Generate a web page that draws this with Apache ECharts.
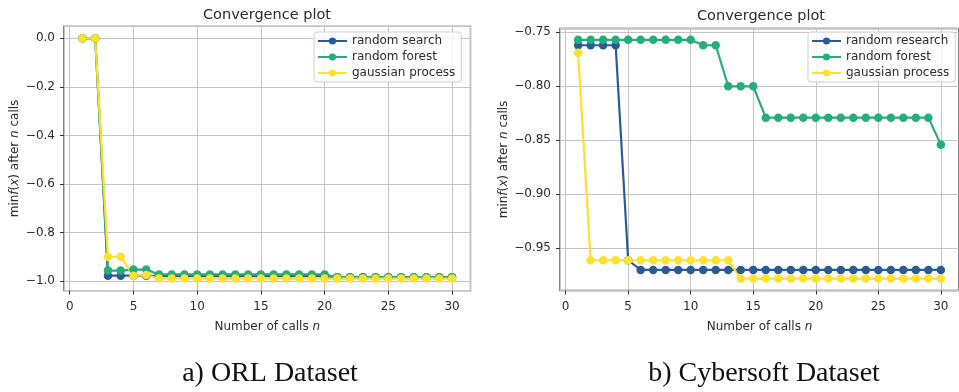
<!DOCTYPE html>
<html>
<head>
<meta charset="utf-8">
<script src="https://cdn.jsdelivr.net/npm/echarts@6/dist/echarts.min.js"></script>
<style>
html,body{margin:0;padding:0;background:#fff;}
#c{width:959px;height:392px;}
</style>
</head>
<body>
<div id="c"></div>
<script>
// ---- data ----
var calls = [1,2,3,4,5,6,7,8,9,10,11,12,13,14,15,16,17,18,19,20,21,22,23,24,25,26,27,28,29,30];

// a) ORL Dataset
var orlRandomSearch = [0,0,-0.978,-0.978,-0.978,-0.978,-0.98,-0.98,-0.98,-0.98,-0.98,-0.98,-0.98,-0.98,-0.98,-0.98,-0.98,-0.98,-0.98,-0.98,-0.985,-0.985,-0.985,-0.985,-0.985,-0.985,-0.985,-0.985,-0.985,-0.985];
var orlRandomForest = [0,0,-0.957,-0.957,-0.953,-0.953,-0.973,-0.973,-0.973,-0.973,-0.973,-0.973,-0.973,-0.973,-0.973,-0.973,-0.973,-0.973,-0.973,-0.973,-0.985,-0.985,-0.985,-0.985,-0.985,-0.985,-0.985,-0.985,-0.985,-0.985];
var orlGaussian = [0,0,-0.90,-0.90,-0.978,-0.975,-0.99,-0.99,-0.99,-0.99,-0.99,-0.99,-0.99,-0.99,-0.99,-0.99,-0.99,-0.99,-0.99,-0.99,-0.99,-0.99,-0.99,-0.99,-0.99,-0.99,-0.99,-0.99,-0.99,-0.99];

// b) Cybersoft Dataset
var cyberRandomResearch = [-0.762,-0.762,-0.762,-0.762,-0.961,-0.970,-0.970,-0.970,-0.970,-0.970,-0.970,-0.970,-0.970,-0.970,-0.970,-0.970,-0.970,-0.970,-0.970,-0.970,-0.970,-0.970,-0.970,-0.970,-0.970,-0.970,-0.970,-0.970,-0.970,-0.970];
var cyberRandomForest = [-0.757,-0.757,-0.757,-0.757,-0.757,-0.757,-0.757,-0.757,-0.757,-0.757,-0.762,-0.762,-0.80,-0.80,-0.80,-0.829,-0.829,-0.829,-0.829,-0.829,-0.829,-0.829,-0.829,-0.829,-0.829,-0.829,-0.829,-0.829,-0.829,-0.854];
var cyberGaussian = [-0.769,-0.961,-0.961,-0.961,-0.961,-0.961,-0.961,-0.961,-0.961,-0.961,-0.961,-0.961,-0.961,-0.978,-0.978,-0.978,-0.978,-0.978,-0.978,-0.978,-0.978,-0.978,-0.978,-0.978,-0.978,-0.978,-0.978,-0.978,-0.978,-0.978];

var leftNames = ['random search','random forest','gaussian process'];
var rightNames = ['random research','random forest','gaussian process'];
var xTicks = [0,5,10,15,20,25,30];
var titleText = 'Convergence plot';
var captionLeft = 'a) ORL Dataset';
var captionRight = 'b) Cybersoft Dataset';

// ---- chart ----
var COLORS = ['#2b5b96','#26ad7c','#fde12d'];
var FONT = 'DejaVu Sans';
var TXT = '#2b2b2b';

function pairs(ys){ return calls.map(function(x,i){ return [x, ys[i]]; }); }
function minus(s){ return String(s).replace('-', '\u2212'); }

function mkSeries(name, ys, idx, color){
  return {
    type:'line', name:name, data:pairs(ys), xAxisIndex:idx, yAxisIndex:idx,
    symbol:'circle', symbolSize:8.5, showSymbol:true,
    lineStyle:{width:2.2, color:color}, itemStyle:{color:color},
    emphasis:{disabled:true}, animation:false
  };
}

function xAx(idx){
  return {
    type:'value', gridIndex:idx, min:-0.45, max:31.45,
    axisLine:{show:false, onZero:false},
    axisTick:{show:true, length:4, lineStyle:{color:'#333'}},
    axisLabel:{color:TXT, fontFamily:FONT, fontSize:12, margin:10, showMinLabel:false, showMaxLabel:false,
      formatter:function(v){ return xTicks.indexOf(v) >= 0 ? String(v) : ''; }},
    splitLine:{show:true, lineStyle:{color:'#c4c4c4', width:1}},
    name:'Number of calls {i|n}', nameLocation:'middle', nameGap:30,
    nameTextStyle:{color:TXT, fontFamily:FONT, fontSize:12,
      rich:{i:{fontStyle:'italic', fontFamily:FONT, fontSize:12, color:TXT}}}
  };
}
function yAx(idx, min, max, dec, gap){
  return {
    type:'value', gridIndex:idx, min:min, max:max,
    axisLine:{show:false, onZero:false},
    axisTick:{show:true, length:4, lineStyle:{color:'#333'}},
    axisLabel:{color:TXT, fontFamily:FONT, fontSize:12, margin:9, showMinLabel:false, showMaxLabel:false,
      formatter:function(v){ return minus(v.toFixed(dec)); }},
    splitLine:{show:true, lineStyle:{color:'#c4c4c4', width:1}},
    name:'{a|min}{i|f}{a|(}{i|x}{a|) after }{i|n}{a| calls}', nameLocation:'middle', nameGap:gap, nameRotate:90,
    nameTextStyle:{color:TXT, fontFamily:FONT, fontSize:12,
      rich:{a:{fontFamily:FONT, fontSize:12, color:TXT}, i:{fontStyle:'italic', fontFamily:FONT, fontSize:12, color:TXT}}}
  };
}
function legend(names, left){
  return {
    data:names, left:left, top:32, orient:'vertical',
    itemWidth:29, itemHeight:9, itemGap:4,
    padding:[3,6,3,3],
    borderColor:'#cfcfcf', borderWidth:1, borderRadius:3, backgroundColor:'rgba(255,255,255,0.8)',
    textStyle:{color:TXT, fontFamily:FONT, fontSize:12}
  };
}

var chart = echarts.init(document.getElementById('c'), null, {renderer:'canvas'});
chart.setOption({
  backgroundColor:'#fff',
  animation:false,
  grid:[
    {left:64, top:26.3, width:406.5, height:264.3, show:true, borderColor:'#444', borderWidth:1.3, containLabel:false},
    {left:560, top:28.5, width:404.5, height:262, show:true, borderColor:'#444', borderWidth:1.3, containLabel:false}
  ],
  xAxis:[xAx(0), xAx(1)],
  yAxis:[yAx(0, -1.0395, 0.0495, 1, 43), yAx(1, -0.989, -0.7465, 2, 49)],
  legend:[
    Object.assign(legend(leftNames, 314), {id:'l0'}),
    Object.assign(legend(rightNames, 808), {id:'l1'})
  ],
  series:[
    mkSeries(leftNames[0], orlRandomSearch, 0, COLORS[0]),
    mkSeries(leftNames[1], orlRandomForest, 0, COLORS[1]),
    mkSeries(leftNames[2], orlGaussian, 0, COLORS[2]),
    mkSeries(rightNames[0], cyberRandomResearch, 1, COLORS[0]),
    mkSeries(rightNames[1], cyberRandomForest, 1, COLORS[1]),
    mkSeries(rightNames[2], cyberGaussian, 1, COLORS[2])
  ],
  graphic:[
    {type:'text', style:{text:titleText, x:267, y:15, align:'center', verticalAlign:'middle', font:'14.5px "DejaVu Sans"', fill:TXT}},
    {type:'text', style:{text:titleText, x:761, y:16, align:'center', verticalAlign:'middle', font:'14.5px "DejaVu Sans"', fill:TXT}},
    {type:'text', style:{text:captionLeft, x:270, y:374, align:'center', verticalAlign:'middle', font:'28px "Liberation Serif"', fill:'#111'}},
    {type:'text', style:{text:captionRight, x:764, y:374, align:'center', verticalAlign:'middle', font:'28px "Liberation Serif"', fill:'#111'}}
  ]
});
</script>
</body>
</html>
